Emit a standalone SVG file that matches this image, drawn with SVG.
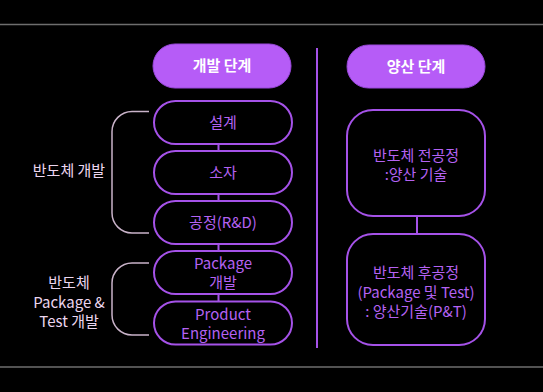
<svg xmlns="http://www.w3.org/2000/svg" width="543" height="392" viewBox="0 0 543 392">
<style>
text{font-family:"Noto Sans CJK KR","Noto Sans",sans-serif;font-size:15px;text-anchor:middle}
.hd{fill:#b65cf7;stroke:#9a48dc;stroke-width:1}
.hdt{fill:#ffffff;font-weight:bold}
.bx{fill:#000;stroke:#a552e8;stroke-width:2}
.bt{fill:#b462f2}
.ln{stroke:#a552e8;stroke-width:2;fill:none}
.br{stroke:#c9b3c9;stroke-width:1.5;fill:none}
.lt{fill:#ecd6ef}
.rule{stroke:#6e6e6e;stroke-width:1.5}
</style>
<rect width="543" height="392" fill="#000"/>
<line class="rule" x1="0" y1="24.5" x2="543" y2="24.5"/>
<line class="rule" x1="0" y1="367" x2="543" y2="367"/>
<g id="connectors">
<line class="ln" x1="317" y1="48" x2="317" y2="348" stroke-width="1.5"/>
<line class="ln" x1="218.5" y1="144" x2="218.5" y2="151"/>
<line class="ln" x1="218.5" y1="194" x2="218.5" y2="201"/>
<line class="ln" x1="218.5" y1="244" x2="218.5" y2="251"/>
<line class="ln" x1="218.5" y1="294" x2="218.5" y2="301"/>
<line class="ln" x1="417" y1="216" x2="417" y2="234"/>
<path class="br" d="M149,111.5 H132 A20,20 0 0 0 112,131.5 V213 A20,20 0 0 0 132,233 H149"/>
<path class="br" d="M149,263 H132 A20,20 0 0 0 112,283 V315 A20,20 0 0 0 132,335 H149"/>
</g>
<g id="h1"><rect class="hd" x="153" y="44" width="138" height="44" rx="22"/><text class="hdt" x="222" y="71">개발 단계</text></g>
<g id="h2"><rect class="hd" x="347" y="45" width="138" height="43" rx="21.5"/><text class="hdt" x="416" y="72">양산 단계</text></g>
<g id="n1"><rect class="bx" x="154" y="101" width="138" height="43" rx="21.5"/><text class="bt" x="223" y="128">설계</text></g>
<g id="n2"><rect class="bx" x="154" y="151" width="138" height="43" rx="21.5"/><text class="bt" x="223" y="178">소자</text></g>
<g id="n3"><rect class="bx" x="154" y="201" width="138" height="43" rx="21.5"/><text class="bt" x="223" y="228">공정(R&amp;D)</text></g>
<g id="n4"><rect class="bx" x="154" y="251" width="138" height="43" rx="21.5"/><text class="bt" x="223" y="269">Package</text><text class="bt" x="223" y="288">개발</text></g>
<g id="n5"><rect class="bx" x="154" y="301.5" width="138" height="43" rx="21.5"/><text class="bt" x="223" y="320">Product</text><text class="bt" x="223" y="339">Engineering</text></g>
<g id="r1"><rect class="bx" x="347" y="110" width="138" height="106" rx="26"/><text class="bt" x="416" y="161">반도체 전공정</text><text class="bt" x="416" y="180">:양산 기술</text></g>
<g id="r2"><rect class="bx" x="347" y="234" width="138" height="111" rx="26"/><text class="bt" x="416" y="278">반도체 후공정</text><text class="bt" x="416" y="298">(Package 및 Test)</text><text class="bt" x="416" y="317">: 양산기술(P&amp;T)</text></g>
<g id="l1"><text class="lt" x="69" y="176">반도체 개발</text></g>
<g id="l2"><text class="lt" x="69" y="288">반도체</text><text class="lt" x="69" y="308">Package &amp;</text><text class="lt" x="69" y="327">Test 개발</text></g>
</svg>
